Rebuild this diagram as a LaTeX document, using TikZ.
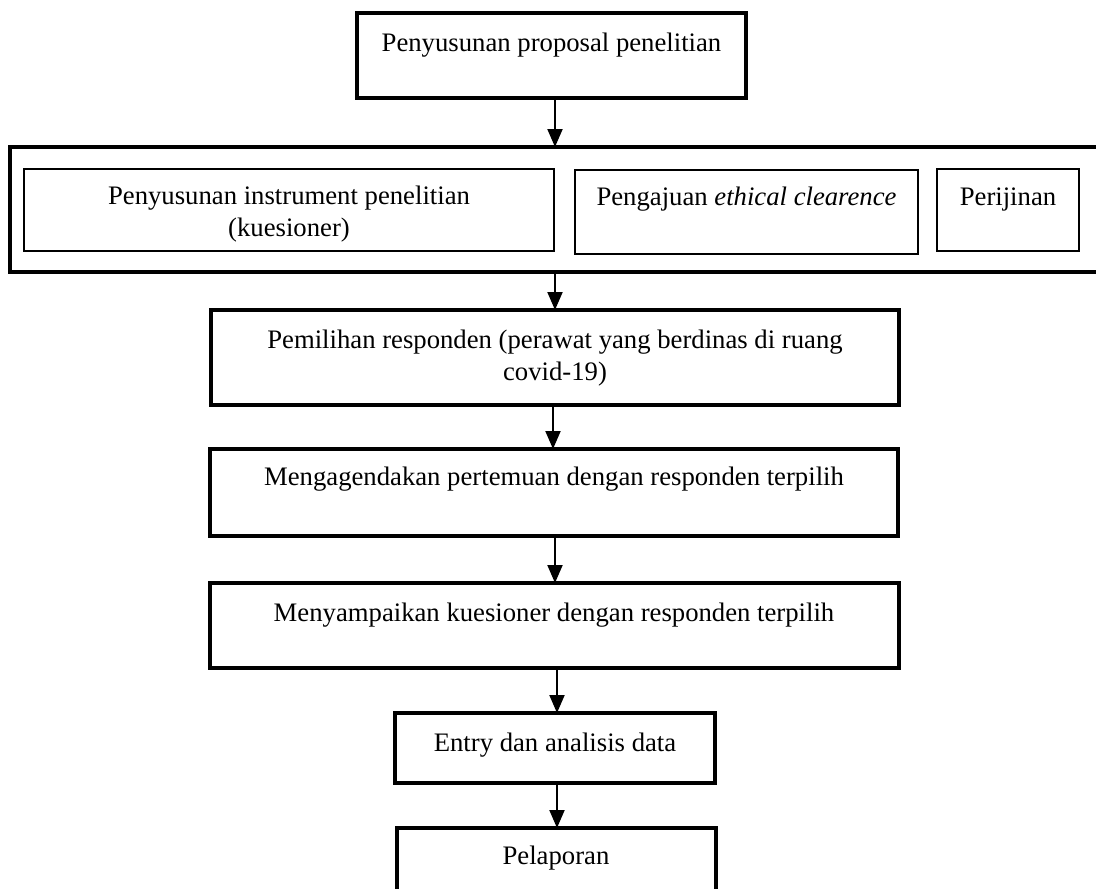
\documentclass[tikz,border=0pt]{standalone}
\usepackage{fontspec}
\setmainfont{Liberation Serif}
\usetikzlibrary{arrows.meta}
\begin{document}
\begin{tikzpicture}[x=1pt,y=-1pt,
  frame/.style={draw, line width=#1, inner sep=0pt, outer sep=0pt, anchor=north west},
  lbl/.style={font=\fontsize{26.7}{32}\selectfont, anchor=base, inner sep=0pt},
  arr/.style={line width=2pt, -{Triangle[length=18pt,width=15pt]}}]
\useasboundingbox (0,0) rectangle (1096,889);
\fill[white] (0,0) rectangle (1096,889);
% boxes
\node[frame=4pt, minimum width=389pt, minimum height=85pt] (b1) at (357,13) {};
\node[frame=4pt, minimum width=1094pt, minimum height=125pt] (outer) at (10,147) {};
\node[frame=2pt, minimum width=530pt, minimum height=82pt] (ba) at (24,169) {};
\node[frame=2pt, minimum width=343pt, minimum height=84pt] (bb) at (575,170) {};
\node[frame=2pt, minimum width=142pt, minimum height=82pt] (bc) at (937,169) {};
\node[frame=4pt, minimum width=688pt, minimum height=95pt] (b3) at (211,310) {};
\node[frame=4pt, minimum width=688pt, minimum height=87pt] (b4) at (210,449) {};
\node[frame=4pt, minimum width=689pt, minimum height=85pt] (b5) at (210,583) {};
\node[frame=3.5pt, minimum width=320pt, minimum height=70pt] (b6) at (395,713) {};
\node[frame=3.5pt, minimum width=319pt, minimum height=85pt] (b7) at (397,828) {};
% texts
\node[lbl] (t1) at (551.5,51) {Penyusunan proposal penelitian};
\node[lbl] (ta1) at (289,204) {Penyusunan instrument penelitian};
\node[lbl] (ta2) at (289,236) {(kuesioner)};
\node[lbl] (tb) at (746.5,205) {Pengajuan \textit{ethical clearence}};
\node[lbl] (tc) at (1008,205) {Perijinan};
\node[lbl] (t3a) at (555,348) {Pemilihan responden (perawat yang berdinas di ruang};
\node[lbl] (t3b) at (555,380) {covid-19)};
\node[lbl] (t4) at (554,485) {Mengagendakan pertemuan dengan responden terpilih};
\node[lbl] (t5) at (554,621) {Menyampaikan kuesioner dengan responden terpilih};
\node[lbl] (t6) at (555,751) {Entry dan analisis data};
\node[lbl] (t7) at (556,864) {Pelaporan};
% arrows
\coordinate (xa) at (555,0);
\coordinate (xb) at (553,0);
\coordinate (xc) at (557,0);
\draw[arr] (b1.south -| xa) -- (outer.north -| xa);
\draw[arr] (outer.south -| xa) -- (b3.north -| xa);
\draw[arr] (b3.south -| xb) -- (b4.north -| xb);
\draw[arr] (b4.south -| xa) -- (b5.north -| xa);
\draw[arr] (b5.south -| xc) -- (b6.north -| xc);
\draw[arr] (b6.south -| xc) -- (b7.north -| xc);
\end{tikzpicture}
\end{document}
